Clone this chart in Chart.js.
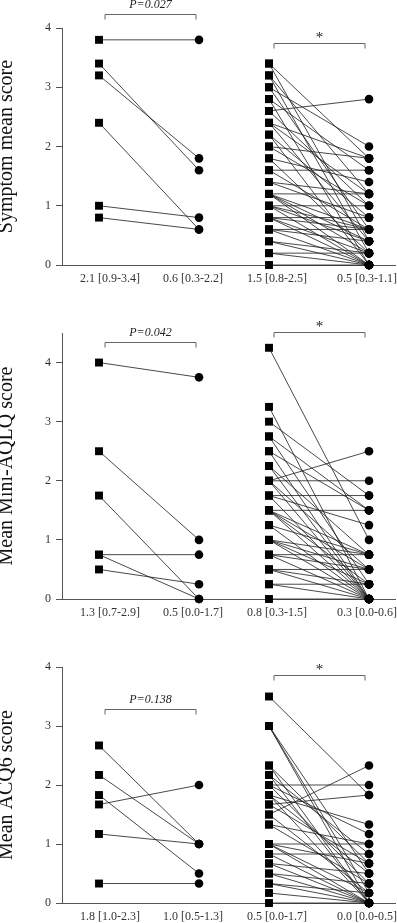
<!DOCTYPE html>
<html>
<head>
<meta charset="utf-8">
<script src="https://cdn.jsdelivr.net/npm/chart.js@4/dist/chart.umd.min.js"></script>
<style>
  html, body { margin: 0; padding: 0; background: #fff; overflow: hidden; }
  #wrap { position: relative; width: 397px; height: 923px; background: #fff; overflow: hidden; }
  canvas { position: absolute; left: 0; }
</style>
</head>
<body>
<div id="wrap">
  <canvas id="c1" width="410" height="310" style="top:0px"></canvas>
  <canvas id="c2" width="410" height="330" style="top:300px"></canvas>
  <canvas id="c3" width="410" height="293" style="top:630px"></canvas>
</div>
<script>
// ---------- DATA ----------
// Panel 1: Symptom mean score
const symLabels = ['2.1 [0.9-3.4]', '0.6 [0.3-2.2]', '1.5 [0.8-2.5]', '0.5 [0.3-1.1]'];
const sym1Before = [3.8, 3.4, 3.2, 2.4, 1.0, 0.8];
const sym1After  = [3.8, 1.6, 1.8, 0.6, 0.8, 0.6];
const sym2Before = [3.4,3.4,3.2,3.2,3.0,3.0,2.8,2.8,2.6,2.6,2.4,2.4,2.4,2.2,2.2,2.0,2.0,1.8,1.8,1.6,1.6,1.4,1.4,1.2,1.2,1.2,1.2,1.2,1.0,1.0,1.0,1.0,0.8,0.8,0.8,0.8,0.6,0.6,0.6,0.4,0.4,0.2,0.2,0.0];
const sym2After  = [1.8,0.4,1.2,0.2,2.0,0.6,1.6,0.0,2.8,1.0,1.8,1.2,0.4,0.8,0.0,1.8,1.0,1.4,0.2,1.6,0.6,1.2,0.8,1.2,0.6,0.4,0.2,0.0,1.0,0.6,0.4,0.0,0.8,0.6,0.2,0.0,0.6,0.4,0.0,0.2,0.0,0.2,0.0,0.0];
const symTicks = [0, 1, 2, 3, 4];
const symP = ['P=0.027', '*'];

// Panel 2: Mean Mini-AQLQ score
const aqLabels = ['1.3 [0.7-2.9]', '0.5 [0.0-1.7]', '0.8 [0.3-1.5]', '0.3 [0.0-0.6]'];
const aq1Before = [4.0, 2.5, 1.75, 0.75, 0.75, 0.5];
const aq1After  = [3.75, 1.0, 0.0, 0.75, 0.0, 0.25];
const aq2Before = [4.25,3.25,3.0,2.75,2.75,2.5,2.5,2.25,2.25,2.0,2.0,2.0,2.0,1.75,1.75,1.75,1.5,1.5,1.5,1.5,1.5,1.25,1.25,1.0,1.0,1.0,1.0,0.75,0.75,0.75,0.5,0.5,0.5,0.25,0.25,0.0];
const aq2After  = [1.0,0.0,1.75,1.5,0.25,1.5,0.0,0.75,0.0,2.5,2.0,0.5,0.0,1.75,1.25,0.0,1.5,0.75,0.5,0.25,0.0,0.75,0.0,0.75,0.5,0.25,0.0,0.75,0.5,0.0,0.5,0.25,0.0,0.25,0.0,0.0];
const aqTicks = [0, 1, 2, 3, 4];
const aqP = ['P=0.042', '*'];

// Panel 3: Mean ACQ6 score
const acqLabels = ['1.8 [1.0-2.3]', '1.0 [0.5-1.3]', '0.5 [0.0-1.7]', '0.0 [0.0-0.5]'];
const acq1Before = [2.67, 2.17, 1.83, 1.67, 1.17, 0.33];
const acq1After  = [1.0, 1.0, 0.5, 2.0, 1.0, 0.33];
const acq2Before = [3.5,3.0,3.0,3.0,2.33,2.33,2.17,2.17,2.0,2.0,2.0,1.83,1.83,1.83,1.67,1.67,1.5,1.5,1.33,1.33,1.0,1.0,1.0,1.0,0.83,0.83,0.67,0.67,0.5,0.5,0.33,0.33,0.17,0.0];
const acq2After  = [1.83,0.5,0.17,0.0,0.67,0.0,0.83,0.0,2.0,1.17,0.33,1.33,0.5,0.0,1.83,0.67,2.33,0.17,1.0,0.33,1.0,0.67,0.17,0.0,0.83,0.0,0.5,0.0,0.33,0.0,0.17,0.0,0.0,0.0];
const acqTicks = [0, 1, 2, 3, 4];
const acqP = ['P=0.138', '*'];

// ---------- LAYOUT / STYLE ----------
const xPos = [1, 2, 2.7, 3.7];              // marker columns on linear x scale
const xTickPos = [1.11, 1.94, 2.78, 3.68];  // label positions on the x axis
const X_MIN = 0.63, X_MAX = 3.96;
const SERIF = "'Liberation Serif', 'Times New Roman', serif";
const AXIS_COLOR = '#555';
const LINE_COLOR = '#1a1a1a';

const panels = [
  { id: 'c1', title: 'Symptom mean score', labels: symLabels, ticks: symTicks, yMax: 4,
    g1: [sym1Before, sym1After], g2: [sym2Before, sym2After],
    padTop: 28, xH: 45, p: symP, bracketY: [4.24, 3.75] },
  { id: 'c2', title: 'Mean Mini-AQLQ score', labels: aqLabels, ticks: aqTicks, yMax: 4.5,
    g1: [aq1Before, aq1After], g2: [aq2Before, aq2After],
    padTop: 33, xH: 31, p: aqP, bracketY: [4.35, 4.52] },
  { id: 'c3', title: 'Mean ACQ6 score', labels: acqLabels, ticks: acqTicks, yMax: 4,
    g1: [acq1Before, acq1After], g2: [acq2Before, acq2After],
    padTop: 37, xH: 20, p: acqP, bracketY: [3.29, 3.86] }
];

const bracketPlugin = {
  id: 'brackets',
  afterDraw(chart, args, opts) {
    const { ctx } = chart;
    const xs = chart.scales.x, ys = chart.scales.y;
    (opts.items || []).forEach(b => {
      const x1 = xs.getPixelForValue(b.x1), x2 = xs.getPixelForValue(b.x2);
      const y = Math.round(ys.getPixelForValue(b.y)) + 0.5;
      ctx.save();
      ctx.strokeStyle = '#666';
      ctx.lineWidth = 1;
      ctx.beginPath();
      ctx.moveTo(x1, y + 5); ctx.lineTo(x1, y); ctx.lineTo(x2, y); ctx.lineTo(x2, y + 5);
      ctx.stroke();
      ctx.fillStyle = '#222';
      ctx.textAlign = 'center';
      ctx.textBaseline = 'middle';
      if (b.label === '*') {
        ctx.font = '15px ' + SERIF;
        ctx.fillText(b.label, (x1 + x2) / 2, y - 5);
      } else {
        ctx.font = 'italic 12px ' + SERIF;
        ctx.fillText(b.label, (x1 + x2) / 2, y - 10);
      }
      ctx.restore();
    });
  }
};

function buildDatasets(p) {
  const ds = [];
  const groups = [[p.g1, xPos[0], xPos[1]], [p.g2, xPos[2], xPos[3]]];
  groups.forEach(([g, xa, xb]) => {
    const [before, after] = g;
    before.forEach((b, i) => {
      ds.push({
        data: [{ x: xa, y: b }, { x: xb, y: after[i] }],
        showLine: true, borderColor: LINE_COLOR, borderWidth: 0.8,
        pointRadius: 0, order: 1, clip: false
      });
    });
    ds.push({
      data: before.map(v => ({ x: xa, y: v })),
      pointStyle: 'rect', pointRadius: 5.6, backgroundColor: '#000',
      borderWidth: 0, showLine: false, order: 0, clip: false
    });
    ds.push({
      data: after.map(v => ({ x: xb, y: v })),
      pointStyle: 'circle', pointRadius: 4.3, backgroundColor: '#000',
      borderWidth: 0, showLine: false, order: 0, clip: false
    });
  });
  return ds;
}

panels.forEach(p => {
  const ctx = document.getElementById(p.id).getContext('2d');
  new Chart(ctx, {
    type: 'scatter',
    data: { datasets: buildDatasets(p) },
    options: {
      responsive: false, animation: false, devicePixelRatio: 1,
      layout: { padding: { top: p.padTop, right: 15, left: 0, bottom: 0 } },
      plugins: {
        legend: { display: false }, tooltip: { enabled: false },
        brackets: { items: [
          { x1: xPos[0] + 0.06, x2: xPos[1] - 0.03, y: p.bracketY[0], label: p.p[0] },
          { x1: xPos[2] + 0.05, x2: xPos[3] - 0.04, y: p.bracketY[1], label: p.p[1] }
        ] }
      },
      scales: {
        x: {
          type: 'linear', min: X_MIN, max: X_MAX,
          grid: { display: false, drawTicks: true, tickLength: 7 },
          border: { color: AXIS_COLOR, width: 1 },
          afterBuildTicks: s => { s.ticks = xTickPos.map(v => ({ value: v })); },
          afterFit: s => { s.height = p.xH; },
          ticks: {
            autoSkip: false, maxRotation: 0, minRotation: 0, padding: 0,
            color: '#333', font: { family: SERIF, size: 12 },
            callback: (v, i) => p.labels[i]
          }
        },
        y: {
          min: 0, max: p.yMax,
          afterBuildTicks: s => { s.ticks = p.ticks.map(v => ({ value: v })); },
          afterFit: s => { s.width = 62; },
          grid: { drawOnChartArea: false, drawTicks: true, tickLength: 6, color: AXIS_COLOR },
          border: { color: AXIS_COLOR, width: 1 },
          ticks: { padding: 5, color: '#333', font: { family: SERIF, size: 12 } },
          title: {
            display: true, text: p.title, color: '#111',
            font: { family: SERIF, size: 20, lineHeight: 1 },
            padding: { top: -3, bottom: 0 }
          }
        }
      }
    },
    plugins: [bracketPlugin]
  });
});
</script>
</body>
</html>
